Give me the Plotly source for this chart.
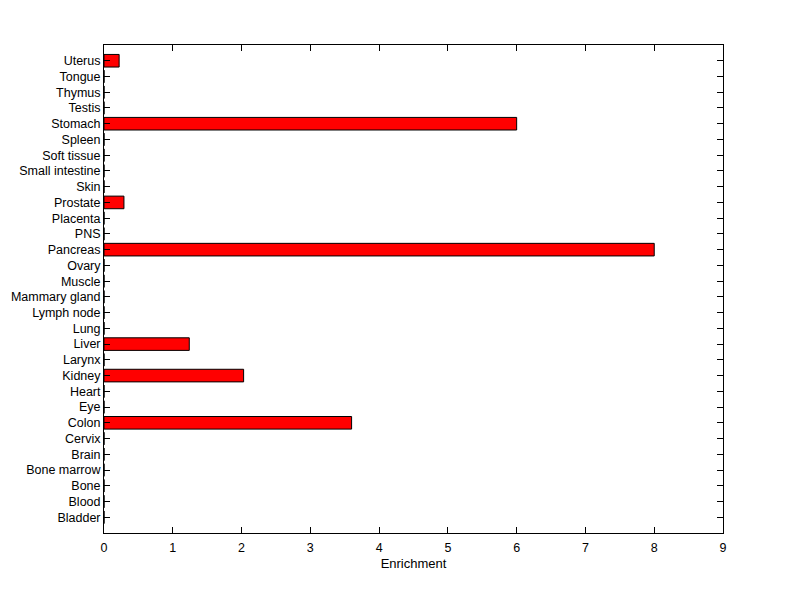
import plotly.graph_objects as go

tissues = ["Bladder", "Blood", "Bone", "Bone marrow", "Brain", "Cervix", "Colon", "Eye",
           "Heart", "Kidney", "Larynx", "Liver", "Lung", "Lymph node", "Mammary gland",
           "Muscle", "Ovary", "Pancreas", "PNS", "Placenta", "Prostate", "Skin",
           "Small intestine", "Soft tissue", "Spleen", "Stomach", "Testis", "Thymus",
           "Tongue", "Uterus"]
enrichment = [0, 0, 0, 0, 0, 0, 3.6, 0,
              0, 2.03, 0, 1.24, 0, 0, 0,
              0, 0, 8.0, 0, 0, 0.29, 0,
              0, 0, 0, 6.0, 0, 0,
              0, 0.22]
positions = list(range(1, len(tissues) + 1))
x_ticks = list(range(0, 10))

fig = go.Figure()
fig.add_trace(go.Bar(
    x=enrichment, y=positions, orientation="h", width=0.8,
    marker=dict(color="#ff0000", line=dict(color="black", width=1)),
))

font = dict(family="Arial, Liberation Sans, sans-serif", size=12.5, color="black")
fig.update_layout(
    width=792, height=591,
    margin=dict(l=96, r=77, t=37, b=66, autoexpand=False),
    paper_bgcolor="white", plot_bgcolor="white",
    showlegend=False, font=font,
    xaxis=dict(range=[0, 9], tickvals=x_ticks, ticks="inside", ticklen=6,
               showline=True, linecolor="black", linewidth=1, mirror="allticks",
               showgrid=False, zeroline=False, tickcolor="black",
               ticklabelstandoff=3, automargin=False,
               title=dict(text="Enrichment", font=dict(size=13), standoff=4)),
    yaxis=dict(range=[0, 31], tickvals=positions, ticktext=tissues, ticks="inside",
               ticklen=6, showline=True, linecolor="black", linewidth=1,
               mirror="allticks", showgrid=False, zeroline=False, tickcolor="black",
               automargin=False),
)
fig.write_html("out.html")
